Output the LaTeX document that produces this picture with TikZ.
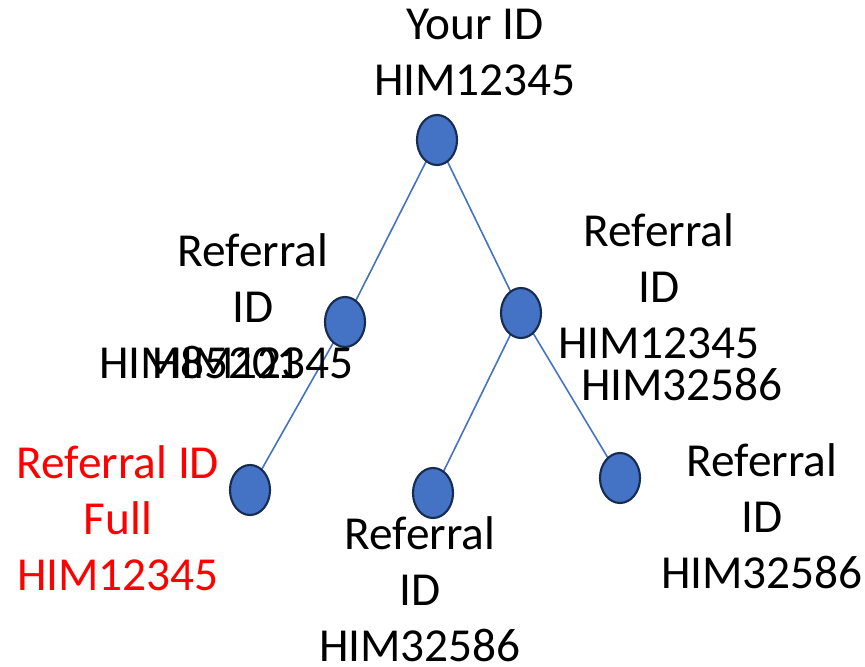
\documentclass[tikz,border=0pt]{standalone}
\usepackage{fontspec}
\setmainfont{Carlito}
\usetikzlibrary{shapes.geometric}
\definecolor{nodeblue}{HTML}{4472C4}
\definecolor{nodeedge}{HTML}{172C51}
\begin{document}
\begin{tikzpicture}[x=0.75pt,y=-0.75pt,
  dot/.style={ellipse,draw=nodeedge,line width=1.6pt,fill=nodeblue,minimum width=30pt,minimum height=37.5pt,inner sep=0pt},
  link/.style={draw=nodeblue,line width=1.2pt},
  lbl/.style={font=\fontsize{35.5}{42}\selectfont,align=center,anchor=base,inner sep=0pt}]
\useasboundingbox (0,0) rectangle (865,667);
\coordinate (top) at (437,140);
\coordinate (lm) at (345,322);
\coordinate (rm) at (521,313);
\coordinate (lb) at (250,490);
\coordinate (mb) at (433,493);
\coordinate (rb) at (620,478);
\draw[link] (top) -- (lm);
\draw[link] (lm) -- (lb);
\draw[link] (top) -- (rm);
\draw[link] (rm) -- (mb);
\draw[link] (rm) -- (rb);
\node[dot] (ntop) at (top) {};
\node[dot] (nlm) at (lm) {};
\node[dot] (nrm) at (rm) {};
\node[dot] (nlb) at (lb) {};
\node[dot] (nmb) at (mb) {};
\node[dot] (nrb) at (rb) {};
\node[lbl] (ttop) at (475,96) {Your ID\\HIM12345};
\node[lbl] (tlm) at (253,378) {Referral\\ID\\HIM12345};
\node[lbl] (tlmx) at (200,378) {HIM85201};
\node[lbl] (trm) at (659,358) {Referral\\ID\\HIM12345};
\node[lbl] (trmx) at (682,400) {HIM32586};
\node[lbl,text=red] (tlb) at (118,590) {Referral ID\\Full\\HIM12345};
\node[lbl] (tmb) at (420,661) {Referral\\ID\\HIM32586};
\node[lbl] (trb) at (762,588) {Referral\\ID\\HIM32586};
\end{tikzpicture}
\end{document}
